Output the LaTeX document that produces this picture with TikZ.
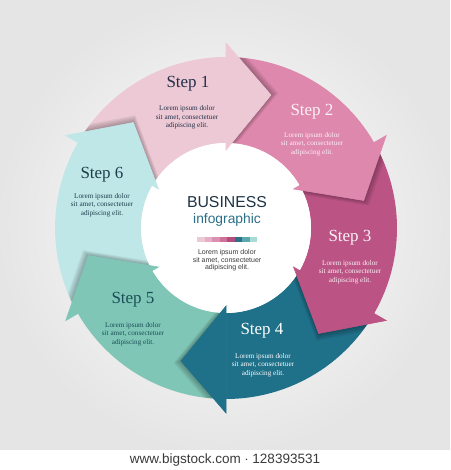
\documentclass[tikz,border=0pt]{standalone}
\usepackage{fontspec}
\setmainfont{Liberation Serif}
\newfontfamily\sansf{Liberation Sans}
\usetikzlibrary{calc}
\definecolor{cA}{HTML}{ECC9D4}
\definecolor{cB}{HTML}{DE88AD}
\definecolor{cC}{HTML}{BB5485}
\definecolor{cD}{HTML}{1F7089}
\definecolor{cE}{HTML}{7FC6B6}
\definecolor{cF}{HTML}{C0E7E7}
\definecolor{darktxt}{HTML}{22304A}
\definecolor{tealtxt}{HTML}{1B4E58}
\definecolor{cyantxt}{HTML}{1C3F4C}
\definecolor{lighttxt}{HTML}{FBF1F5}
\definecolor{bizblue}{HTML}{1D3346}
\definecolor{infoteal}{HTML}{2A6F88}
\definecolor{midgray}{HTML}{3A3A3A}
\begin{document}
\begin{tikzpicture}[x=1pt,y=1pt,
  steptitle/.style={font=\fontsize{17}{17}\selectfont, text=#1, inner sep=0pt},
  steptext/.style={font=\fontsize{7.2}{8.4}\selectfont, text=#1, align=center, inner sep=0pt},
  shadowpiece/.style={fill=black, fill opacity=0.06}
]
\useasboundingbox (0,0) rectangle (450,-470);
% background
\shade[inner color=white, outer color=gray!20] (0,0) rectangle (450,-450);
\fill[white] (0,-450) rectangle (450,-470);
\node[font=\sansf\fontsize{13.5}{14}\selectfont, text=midgray, inner sep=0pt] (wm) at (225,-460) {www.bigstock.com $\cdot$ 128393531};
\coordinate (C) at (226,-228);
% ring bodies
\foreach \a/\c [evaluate=\a as \b using \a+60] in {90/cA, 30/cB, -30/cC, -90/cD, -150/cE, -210/cF} {
  \fill[\c] ($(C)+(\b:171pt)$) arc[start angle=\b, end angle=\a, radius=171pt]
    -- ($(C)+(\a:85pt)$) arc[start angle=\a, end angle=\b, radius=85pt] -- cycle;
}
% thin overlaps under each arrow head's back edge (no seams)
\foreach \a/\c [evaluate=\a as \e using \a-1.5] in {90/cA, 30/cB, -30/cC, -90/cD, -150/cE, -210/cF} {
  \fill[\c] ($(C)+(\a:171pt)$) arc[start angle=\a, end angle=\e, radius=171pt]
    -- ($(C)+(\e:85pt)$) arc[start angle=\e, end angle=\a, radius=85pt] -- cycle;
}
% soft shadows of the arrow heads, on the ring only
\begin{scope}
  \clip (C) circle[radius=171pt];
  \foreach \a [evaluate=\a as \t using \a-90, evaluate=\a as \u using \a-75] in {90, 30, -30, -90, -150, -210} {
    \foreach \d in {1.5,3,4.5,6,7.5} {
      \path[shadowpiece] ($(C)+(\a:78pt)+(\u:\d pt)$) -- ($(C)+(\a:185pt)+(\u:\d pt)$) -- ($(C)+(\a:133pt)+(\t:45pt)+(\u:\d pt)$) -- cycle;
    }
  }
\end{scope}
% inner disc
\fill[white] (C) circle[radius=85pt];
% arrow heads
\foreach \a/\c [evaluate=\a as \t using \a-90] in {90/cA, 30/cB, -30/cC, -90/cD, -150/cE, -210/cF} {
  \filldraw[fill=\c, draw=\c, line width=0.6pt, line join=miter] ($(C)+(\a:78pt)$) -- ($(C)+(\a:185pt)$) -- ($(C)+(\a:133pt)+(\t:45pt)$) -- cycle;
}
% step labels
\node[steptitle=darktxt] (s1) at (188,-84) {Step 1};
\node[steptext=darktxt] (t1) at (187,-117.5) {Lorem ipsum dolor\\sit amet, consectetuer\\adipiscing elit.};
\node[steptitle=lighttxt] (s2) at (312,-112) {Step 2};
\node[steptext=lighttxt] (t2) at (312,-144) {Lorem ipsum dolor\\sit amet, consectetuer\\adipiscing elit.};
\node[steptitle=lighttxt] (s3) at (350,-238) {Step 3};
\node[steptext=lighttxt] (t3) at (350,-272) {Lorem ipsum dolor\\sit amet, consectetuer\\adipiscing elit.};
\node[steptitle=white] (s4) at (262,-331) {Step 4};
\node[steptext=white] (t4) at (263,-365) {Lorem ipsum dolor\\sit amet, consectetuer\\adipiscing elit.};
\node[steptitle=tealtxt] (s5) at (133,-300) {Step 5};
\node[steptext=tealtxt] (t5) at (133,-334) {Lorem ipsum dolor\\sit amet, consectetuer\\adipiscing elit.};
\node[steptitle=cyantxt] (s6) at (102,-175) {Step 6};
\node[steptext=cyantxt] (t6) at (102,-205) {Lorem ipsum dolor\\sit amet, consectetuer\\adipiscing elit.};
% center
\node[font=\sansf\fontsize{15.8}{16}\selectfont, text=bizblue, inner sep=0pt] (biz) at (227,-202) {BUSINESS};
\node[font=\sansf\fontsize{13.8}{14}\selectfont, text=infoteal, inner sep=0pt] (info) at (227,-220) {infographic};
\foreach \c [count=\i from 0] in {ECCAD5, E3AFC4, DC90B1, CF6F9A, B24E7D, 2C7189, 5BA9AE, A9DBD6} {
  \definecolor{barc}{HTML}{\c}
  \fill[barc] (197+7.5*\i,-237) rectangle (204.5+7.5*\i,-242);
}
\node[font=\sansf\fontsize{7}{7.6}\selectfont, text=midgray, align=center, inner sep=0pt] (ct) at (227,-260.5) {Lorem ipsum dolor\\sit amet, consectetuer\\adipiscing elit.};
\end{tikzpicture}
\end{document}
